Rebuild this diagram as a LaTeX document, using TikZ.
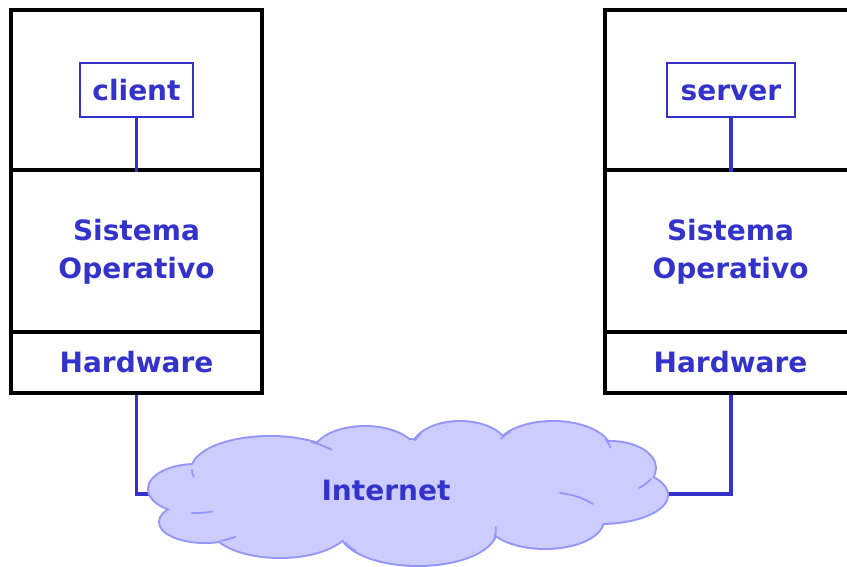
\documentclass[tikz,border=0pt]{standalone}
\usepackage{fontspec}
\setmainfont{DejaVu Sans}
\definecolor{txtblue}{RGB}{51,51,204}
\definecolor{cloudfill}{RGB}{204,204,255}
\definecolor{cloudedge}{RGB}{150,150,250}
\begin{document}
\begin{tikzpicture}[x=1pt,y=-1pt,
  layer/.style={draw=black, line width=3.4pt, minimum width=251pt, inner sep=0pt},
  lbl/.style={text=txtblue, font=\bfseries\fontsize{28}{38}\selectfont, align=center},
  proc/.style={lbl, draw=txtblue, line width=1.6pt, minimum height=54pt, inner sep=0pt,
    text height=22pt, text depth=0pt},
  link/.style={draw=txtblue, line width=3.4pt},
  puffedge/.style={draw=cloudedge, line width=4pt},
  pufffill/.style={fill=cloudfill},
  stub/.style={draw=cloudedge, line width=1.8pt, line cap=round}]
\useasboundingbox (0,0) rectangle (847,567);
\clip (0,0) rectangle (847,567);

% client host
\node[layer, minimum height=160pt] (appL) at (136.5,90) {};
\node[layer, lbl, minimum height=162pt, text depth=5pt] (osL) at (136.5,251) {Sistema\\Operativo};
\node[layer, lbl, minimum height=61pt] (hwL) at (136.5,362.5) {Hardware};
\node[proc, minimum width=113pt] (client) at (136.5,90) {client};

% server host
\node[layer, minimum height=160pt] (appR) at (730.5,90) {};
\node[layer, lbl, minimum height=162pt, text depth=5pt] (osR) at (730.5,251) {Sistema\\Operativo};
\node[layer, lbl, minimum height=61pt] (hwR) at (730.5,362.5) {Hardware};
\node[proc, minimum width=128pt] (server) at (731,90) {server};

\draw[link] (client.south) -- (appL.south);
\draw[link] (server.south) -- (server.south |- appR.south);

% attachment points on the cloud rim
\coordinate (netW) at (160,494);
\coordinate (netE) at (660,494);
\draw[link] (hwL.south) |- (netW);
\draw[link] (hwR.south -| server.south) |- (netE);

% cloud built from overlapping puffs
\def\puffs{196/489/47/24, 270/470/78/33, 365/455/52/28, 460/450/48/28,
  553/452/58/30, 610/468/45/26, 600/495/67/28, 545/520/58/28,
  418/530/78/35, 280/525/70/32, 205/522/45/20, 410/490/200/50}
\foreach \cx/\cy/\rx/\ry in \puffs
  \path[puffedge] (\cx,\cy) ellipse [x radius=\rx pt, y radius=\ry pt];
\foreach \cx/\cy/\rx/\ry in \puffs
  \path[pufffill] (\cx,\cy) ellipse [x radius=\rx pt, y radius=\ry pt];

% short inner strokes where puffs overlap (angles measured on the page)
\foreach \cx/\cy/\rx/\ry/\a/\b in {
  270/470/78/33/180/192, 270/470/78/33/58/38, 460/450/48/28/145/160,
  553/452/58/30/138/154, 553/452/58/30/25/8, 610/468/45/26/-25/-50,
  545/520/58/28/75/35, 418/530/78/35/-12/5, 418/530/78/35/-158/-143,
  205/522/45/20/-70/-48, 196/489/47/24/-95/-70}
  \draw[stub] (\cx,\cy) ++(\a:\rx pt and \ry pt)
    arc [start angle=\a, end angle=\b, x radius=\rx pt, y radius=\ry pt];

\node[lbl] (net) at (386,490) {Internet};
\end{tikzpicture}
\end{document}
